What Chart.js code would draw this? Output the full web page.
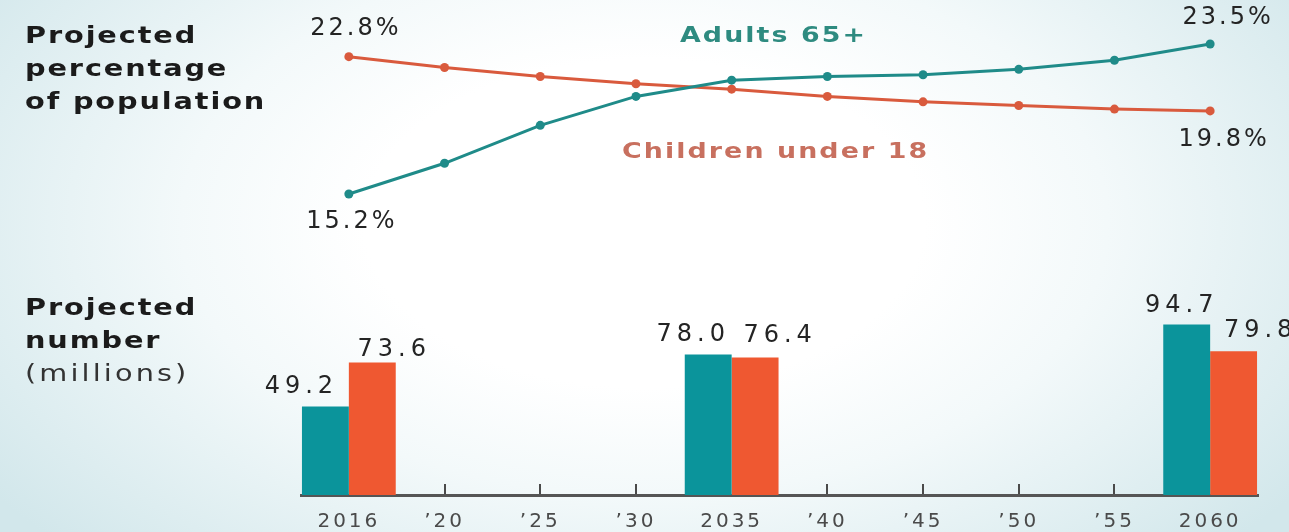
<!DOCTYPE html>
<html>
<head>
<meta charset="utf-8">
<script src="https://cdn.jsdelivr.net/npm/chart.js@4.4.1/dist/chart.umd.min.js"></script>
<style>
  html, body { margin: 0; padding: 0; }
  #wrap {
    position: relative; width: 1289px; height: 532px; overflow: hidden;
    background: radial-gradient(ellipse 62% 88% at 50% 42%, #ffffff 35%, #f3f9fa 58%, #d2e7eb 100%);
    font-family: "DejaVu Sans", sans-serif;
  }
  canvas { position: absolute; left: 0; }
  #cTop { top: 0; }
  #cBot { top: 260px; }
  .t { position: absolute; line-height: 33px; font-size: 23px; white-space: nowrap; transform-origin: 0 0; }
  .title { left: 25px; font-weight: bold; color: #1b1b1b; letter-spacing: 1.5px; transform: scaleX(1.25); }
  .sub { font-weight: normal; color: #333; letter-spacing: 2.5px; }
  .ann { font-weight: bold; font-size: 22px; letter-spacing: 1.7px; transform: scaleX(1.22); }
</style>
</head>
<body>
<div id="wrap">
  <canvas id="cTop" width="1289" height="260"></canvas>
  <canvas id="cBot" width="1289" height="272"></canvas>
  <div class="t title" style="top:19px">Projected<br>percentage<br>of population</div>
  <div class="t title" style="top:291px">Projected<br>number<br><span class="sub">(millions)</span></div>
  <div class="t ann" style="left:680px; top:18px; color:#2e8b80">Adults 65+</div>
  <div class="t ann" style="left:622px; top:134px; color:#c8705f">Children under 18</div>
</div>
<script>
// ---- data ----
const years = ['2016', '\u201920', '\u201925', '\u201930', '2035', '\u201940', '\u201945', '\u201950', '\u201955', '2060'];
const adultsPct = [15.2, 16.9, 19.0, 20.6, 21.5, 21.7, 21.8, 22.1, 22.6, 23.5];
const childrenPct = [22.8, 22.2, 21.7, 21.3, 21.0, 20.6, 20.3, 20.1, 19.9, 19.8];
const adultsMillions = [49.2, null, null, null, 78.0, null, null, null, null, 94.7];
const childrenMillions = [73.6, null, null, null, 76.4, null, null, null, null, 79.8];

// ---- styling ----
const TEAL_LINE = '#1f8b89';
const ORANGE_LINE = '#d95a3d';
const TEAL_BAR = '#0b949b';
const ORANGE_BAR = '#ef5831';
const FONT = '"DejaVu Sans", sans-serif';

// label offsets (dx, dy) from each labelled mark, by dataset index then point index
const lineLabelOffsets = [
  { 0: [3, 28], 9: [18, -26] },
  { 0: [7, -28], 9: [14, 29] }
];
const barLabelOffsets = [
  { 0: [-24, -20], 4: [-15, -20], 9: [-5, -19] },
  { 0: [22, -13], 4: [25, -22], 9: [27, -21] }
];

function makeLabelPlugin(id, offsets, suffix, font, spacing) {
  return {
    id: id,
    afterDatasetsDraw(chart) {
      const ctx = chart.ctx;
      ctx.save();
      ctx.font = font;
      ctx.fillStyle = '#242424';
      ctx.textAlign = 'center';
      ctx.textBaseline = 'middle';
      ctx.letterSpacing = spacing;
      chart.data.datasets.forEach((ds, di) => {
        const meta = chart.getDatasetMeta(di);
        const offs = offsets[di] || {};
        meta.data.forEach((el, i) => {
          const v = ds.data[i];
          if (v == null || !offs[i]) return;
          ctx.fillText(v.toFixed(1) + suffix, el.x + offs[i][0], el.y + offs[i][1]);
        });
      });
      ctx.restore();
    }
  };
}

// small tick marks standing on the axis line where no bar stands
const tickMarkPlugin = {
  id: 'tickMarks',
  afterDatasetsDraw(chart) {
    const ctx = chart.ctx;
    const x = chart.scales.x;
    const bottom = chart.chartArea.bottom;
    ctx.save();
    ctx.fillStyle = '#4a4a4a';
    for (let i = 0; i < years.length; i++) {
      if (adultsMillions[i] != null || childrenMillions[i] != null) continue;
      const px = x.getPixelForValue(i);
      ctx.fillRect(Math.round(px) - 1, bottom - 11, 2, 10);
    }
    ctx.restore();
  }
};

const spacingPlugin = {
  id: 'spacing',
  beforeDraw(chart) { chart.ctx.letterSpacing = '3px'; }
};

// ---- top: percentage lines ----
new Chart(document.getElementById('cTop'), {
  type: 'line',
  data: {
    labels: years,
    datasets: [
      { data: adultsPct, borderColor: TEAL_LINE, backgroundColor: TEAL_LINE, borderWidth: 3,
        pointRadius: 4.5, pointBorderWidth: 0, pointBackgroundColor: TEAL_LINE, tension: 0, clip: false },
      { data: childrenPct, borderColor: ORANGE_LINE, backgroundColor: ORANGE_LINE, borderWidth: 3,
        pointRadius: 4.5, pointBorderWidth: 0, pointBackgroundColor: ORANGE_LINE, tension: 0, clip: false }
    ]
  },
  options: {
    responsive: false,
    animation: false,
    layout: { padding: { left: 301, right: 31, top: 16.9, bottom: 44.3 } },
    plugins: { legend: { display: false }, tooltip: { enabled: false } },
    scales: {
      x: { type: 'category', display: false, offset: true },
      y: { display: false, min: 14, max: 25 }
    }
  },
  plugins: [makeLabelPlugin('lineLabels', lineLabelOffsets, '%', '24px ' + FONT, '3px')]
});

// ---- bottom: millions bars ----
new Chart(document.getElementById('cBot'), {
  type: 'bar',
  data: {
    labels: years,
    datasets: [
      { data: adultsMillions, backgroundColor: TEAL_BAR, borderWidth: 0 },
      { data: childrenMillions, backgroundColor: ORANGE_BAR, borderWidth: 0 }
    ]
  },
  options: {
    responsive: false,
    animation: false,
    layout: { padding: { left: 301, right: 31, top: 37, bottom: 0 } },
    datasets: { bar: { categoryPercentage: 0.98, barPercentage: 1.0 } },
    plugins: { legend: { display: false }, tooltip: { enabled: false } },
    scales: {
      x: {
        type: 'category',
        offset: true,
        grid: { display: true, drawOnChartArea: false, drawTicks: false },
        border: { display: true, color: '#555555', width: 3 },
        ticks: { font: { size: 20, family: FONT }, color: '#4a4a4a', padding: 15, autoSkip: false, maxRotation: 0 },
        afterFit(scale) { scale.height = 37; }
      },
      y: { display: false, min: 0, max: 110 }
    }
  },
  plugins: [spacingPlugin, tickMarkPlugin, makeLabelPlugin('barLabels', barLabelOffsets, '', '24px ' + FONT, '5px')]
});
</script>
</body>
</html>
